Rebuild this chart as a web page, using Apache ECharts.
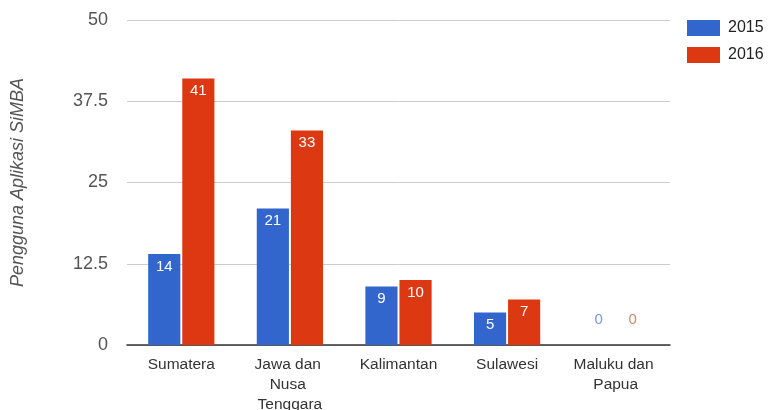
<!DOCTYPE html>
<html>
<head>
<meta charset="utf-8">
<script src="https://cdn.jsdelivr.net/npm/echarts@6/dist/echarts.min.js"></script>
<style>
html, body { margin: 0; padding: 0; background: #fff; }
#chart { width: 769px; height: 410px; }
</style>
</head>
<body>
<div id="chart"></div>
<script>
const categories = ["Sumatera", "Jawa dan Nusa Tenggara", "Kalimantan", "Sulawesi", "Maluku dan Papua"];
const values2015 = [14, 21, 9, 5, 0];
const values2016 = [41, 33, 10, 7, 0];
const yTicks = [0, 12.5, 25, 37.5, 50];

const font = "Arial, 'Liberation Sans', sans-serif";

// zero bars get their label above the axis, in a faded series colour
const make_data = function (values, zeroColor) {
    return values.map((v) => {
        if (v === 0) {
            return { value: v, label: { position: "top", distance: 18, color: zeroColor } };
        }
        return v;
    });
};

const chart = echarts.init(document.getElementById("chart"));
chart.setOption({
    animation: false,
    textStyle: { fontFamily: font },
    grid: { left: 127, right: 99, top: 20, bottom: 65, outerBoundsMode: "none", containLabel: false },
    legend: {
        orient: "vertical",
        left: 687,
        top: 20,
        padding: 0,
        itemWidth: 33,
        itemHeight: 16,
        itemGap: 11,
        icon: "rect",
        textStyle: { fontSize: 16, color: "#222", fontFamily: font, padding: [0, 0, 0, 3] },
    },
    xAxis: {
        type: "category",
        data: categories,
        axisLine: { lineStyle: { color: "#333", width: 1.5 } },
        axisTick: { show: false },
        axisLabel: {
            interval: 0,
            margin: 10,
            fontSize: 15.5,
            color: "#333",
            lineHeight: 20,
            width: 96,
            overflow: "break",
            fontFamily: font,
        },
    },
    yAxis: {
        type: "value",
        min: yTicks[0],
        max: yTicks[yTicks.length - 1],
        interval: yTicks[1] - yTicks[0],
        name: "Pengguna Aplikasi SiMBA",
        nameLocation: "middle",
        nameRotate: 90,
        nameGap: 100,
        nameTextStyle: { fontSize: 18, fontStyle: "italic", color: "#555", fontFamily: font },
        axisLine: { show: false },
        axisTick: { show: false },
        splitLine: { lineStyle: { color: "#ccc" } },
        axisLabel: { margin: 19, fontSize: 18, color: "#555", fontFamily: font },
    },
    series: [
        {
            name: "2015",
            type: "bar",
            data: make_data(values2015, "#7896d6"),
            itemStyle: { color: "#3366cc" },
            barGap: "6%",
            barCategoryGap: "39%",
            label: { show: true, position: "insideTop", distance: 5, color: "#fff", fontSize: 15 },
        },
        {
            name: "2016",
            type: "bar",
            data: make_data(values2016, "#d5876a"),
            itemStyle: { color: "#dc3912" },
            barGap: "6%",
            barCategoryGap: "39%",
            label: { show: true, position: "insideTop", distance: 5, color: "#fff", fontSize: 15 },
        },
    ],
});
</script>
</body>
</html>
